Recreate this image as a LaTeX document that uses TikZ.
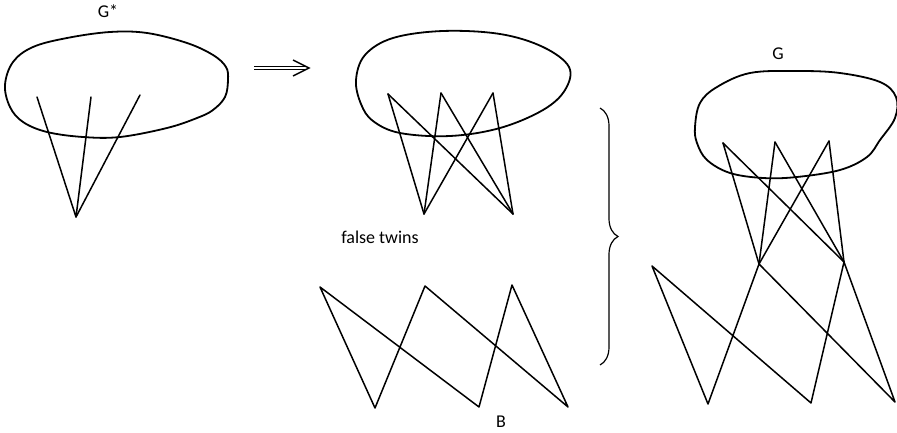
\documentclass[tikz,border=0pt]{standalone}
\usepackage{fontspec}
\setmainfont{Carlito}
\usetikzlibrary{decorations.pathreplacing}
\tikzset{
  blob/.style={line width=1.8pt, line join=round},
  edge/.style={line width=1.5pt, line cap=round, line join=round},
  lbl/.style={inner sep=0pt, font=\fontsize{18}{21}\selectfont},
}
\begin{document}
\begin{tikzpicture}[x=1pt,y=-1pt]
\useasboundingbox (0,0) rectangle (897,433);
% ---------- left panel ----------
\node[lbl, anchor=base] (gstar) at (108,18) {G*};
\draw[blob] plot[smooth cycle, tension=0.6] coordinates {
 (5,85) (13,62) (33,47) (67,38) (110,32) (147,33) (187,43) (213,55) (226,67)
 (228,80) (225,97) (213,110) (197,118) (167,128) (120,137) (83,137) (47,132)
 (23,122) (10,107)};
\coordinate (L1) at (37,97);
\coordinate (L2) at (91,97);
\coordinate (L3) at (140,95);
\coordinate (Lb) at (76,217);
\draw[edge] (L1) -- (Lb) -- (L2);
\draw[edge] (Lb) -- (L3);
% ---------- arrow ----------
\coordinate (A1) at (254,68);
\coordinate (A2) at (306,68);
\coordinate (Ah) at (309,68);
\draw[line width=0.9pt, double, double distance=2.2pt] (A1) -- (A2);
\draw[line width=1.4pt, line join=miter] ([shift={(-16,-8)}]Ah) -- (Ah) -- ([shift={(-16,8)}]Ah);
% ---------- middle panel ----------
\draw[blob] plot[smooth cycle, tension=0.6] coordinates {
 (356,80) (365,55) (393,38) (443,31) (500,34) (543,47) (569,67) (565,90)
 (543,110) (500,128) (450,136) (400,133) (373,121) (361,104)};
\coordinate (M1) at (388,94);
\coordinate (M2) at (441,93);
\coordinate (M3) at (493,93);
\coordinate (Mb1) at (424,214);
\coordinate (Mb2) at (513,214);
\foreach \t in {M1,M2,M3}{
  \draw[edge] (\t) -- (Mb1);
  \draw[edge] (\t) -- (Mb2);
}
\node[lbl, anchor=center] (ft) at (380,237.5) {false twins};
% ---------- B ----------
\coordinate (Ba1) at (320,287);
\coordinate (Ba2) at (425,286);
\coordinate (Ba3) at (512,285);
\coordinate (Bb1) at (375,408);
\coordinate (Bb2) at (479,407);
\coordinate (Bb3) at (568,407);
\draw[edge] (Bb1) -- (Ba1) -- (Bb2) -- (Ba3) -- (Bb3) -- (Ba2) -- cycle;
\node[lbl, anchor=base] (bl) at (501,427) {B};
% ---------- brace ----------
\coordinate (Br1) at (600,108);
\coordinate (Br2) at (600,365);
\draw[line width=1.2pt, decorate, decoration={brace, amplitude=18pt, aspect=0.5}] (Br1) -- (Br2);
% ---------- right panel ----------
\node[lbl, anchor=base] (gl) at (778,60) {G};
\draw[blob] plot[smooth cycle, tension=0.6] coordinates {
 (695,127) (700,103) (717,87) (750,73) (797,71) (840,73) (880,82) (896,97)
 (895,118) (880,140) (867,157) (840,170) (797,177) (763,178) (730,173)
 (707,160) (697,143)};
\coordinate (R1) at (723,143);
\coordinate (R2) at (775,142);
\coordinate (R3) at (829,141);
\coordinate (Rm1) at (759,264);
\coordinate (Rm2) at (844,262);
\foreach \t in {R1,R2,R3}{
  \draw[edge] (\t) -- (Rm1);
  \draw[edge] (\t) -- (Rm2);
}
\coordinate (Rl) at (652,266);
\coordinate (Rb1) at (708,404);
\coordinate (Rb2) at (811,403);
\coordinate (Rb3) at (895,402);
\draw[edge] (Rb1) -- (Rl) -- (Rb2) -- (Rm2) -- (Rb3) -- (Rm1) -- cycle;
\end{tikzpicture}
\end{document}
